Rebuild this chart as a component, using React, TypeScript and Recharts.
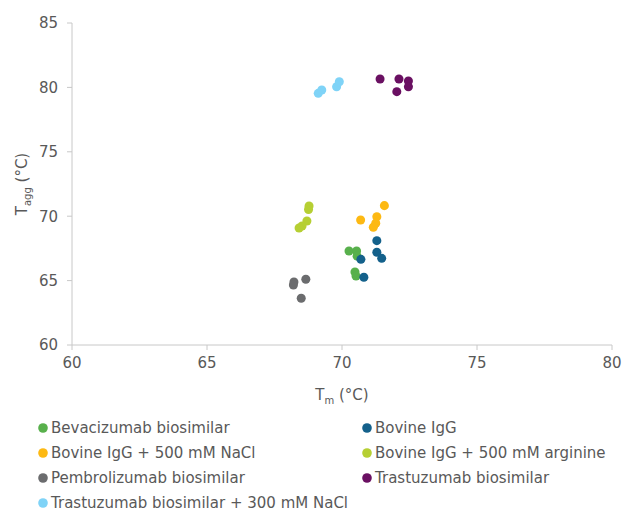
import React from "react";
import { ScatterChart, Scatter, XAxis, YAxis, ZAxis, Legend } from "recharts";

const seriesNames = [
  "Bevacizumab biosimilar",
  "Bovine IgG",
  "Bovine IgG + 500 mM NaCl",
  "Bovine IgG + 500 mM arginine",
  "Pembrolizumab biosimilar",
  "Trastuzumab biosimilar",
  "Trastuzumab biosimilar + 300 mM NaCl",
];
const seriesColors = ["#58B04C", "#14618B", "#FDB913", "#B6CF33", "#6B6C6E", "#6A1062", "#7FD3F7"];

const bevacizumab = [
  { tm: 70.26, tagg: 67.3 },
  { tm: 70.54, tagg: 67.3 },
  { tm: 70.56, tagg: 66.9 },
  { tm: 70.48, tagg: 65.67 },
  { tm: 70.52, tagg: 65.36 },
];
const bovineIgG = [
  { tm: 71.29, tagg: 68.1 },
  { tm: 71.29, tagg: 67.2 },
  { tm: 71.47, tagg: 66.73 },
  { tm: 70.7, tagg: 66.65 },
  { tm: 70.81, tagg: 65.26 },
];
const bovineNaCl = [
  { tm: 71.57, tagg: 70.82 },
  { tm: 70.69, tagg: 69.7 },
  { tm: 71.29, tagg: 69.96 },
  { tm: 71.25, tagg: 69.45 },
  { tm: 71.16, tagg: 69.14 },
];
const bovineArginine = [
  { tm: 68.78, tagg: 70.79 },
  { tm: 68.76, tagg: 70.52 },
  { tm: 68.7, tagg: 69.63 },
  { tm: 68.52, tagg: 69.24 },
  { tm: 68.41, tagg: 69.08 },
];
const pembrolizumab = [
  { tm: 68.22, tagg: 64.89 },
  { tm: 68.2, tagg: 64.66 },
  { tm: 68.66, tagg: 65.1 },
  { tm: 68.49, tagg: 63.63 },
];
const trastuzumab = [
  { tm: 71.41, tagg: 80.65 },
  { tm: 72.11, tagg: 80.65 },
  { tm: 72.46, tagg: 80.5 },
  { tm: 72.46, tagg: 80.05 },
  { tm: 72.03, tagg: 79.67 },
];
const trastuzumabNaCl = [
  { tm: 69.12, tagg: 79.54 },
  { tm: 69.25, tagg: 79.8 },
  { tm: 69.8, tagg: 80.05 },
  { tm: 69.9, tagg: 80.44 },
];

const seriesData = [
  bevacizumab,
  bovineIgG,
  bovineNaCl,
  bovineArginine,
  pembrolizumab,
  trastuzumab,
  trastuzumabNaCl,
];

const xTicks = [60, 65, 70, 75, 80];
const yTicks = [60, 65, 70, 75, 80, 85];

const FONT = "'DejaVu Sans', Verdana, sans-serif";
const TEXT = "#595959";
const AXIS = "#C8C8C8";

const XLabel = (props: any) => {
  const vb = props.viewBox || {};
  const cx = vb.x + vb.width / 2;
  return (
    <text x={cx} y={400} textAnchor="middle" fill={TEXT} fontSize={15} fontFamily={FONT}>
      <tspan>T</tspan>
      <tspan dy={4} fontSize={10}>m</tspan>
      <tspan dy={-4}> (°C)</tspan>
    </text>
  );
};

const YLabel = (props: any) => {
  const vb = props.viewBox || {};
  const cy = vb.y + vb.height / 2;
  const x = 27;
  return (
    <text
      x={x}
      y={cy}
      transform={`rotate(-90 ${x} ${cy})`}
      textAnchor="middle"
      fill={TEXT}
      fontSize={15}
      fontFamily={FONT}
    >
      <tspan>T</tspan>
      <tspan dy={4} fontSize={10}>agg</tspan>
      <tspan dy={-4}> (°C)</tspan>
    </text>
  );
};

const LegendContent = () => (
  <div
    style={{
      display: "grid",
      gridTemplateColumns: "324px 290px",
      rowGap: 0,
      fontFamily: FONT,
      fontSize: 15,
      color: TEXT,
    }}
  >
    {seriesNames.map((name, i) => (
      <div key={name} style={{ display: "flex", alignItems: "center", height: 25, whiteSpace: "nowrap" }}>
        <svg width={12} height={12} style={{ marginRight: 2 }}>
          <circle cx={6} cy={6} r={4.8} fill={seriesColors[i]} />
        </svg>
        <span>{name}</span>
      </div>
    ))}
  </div>
);

export default function App() {
  return (
    <div style={{ position: "absolute", left: 0, top: 0, width: 625, height: 510, background: "#fff" }}>
      <ScatterChart width={625} height={510} margin={{ top: 23, right: 13, left: 12, bottom: 105 }}>
        <XAxis
          type="number"
          dataKey="tm"
          domain={[60, 80]}
          ticks={xTicks}
          interval={0}
          stroke={AXIS}
          tickSize={5}
          tickMargin={7}
          height={60}
          tick={{ fill: TEXT, fontSize: 15, fontFamily: FONT }}
          label={<XLabel />}
        />
        <YAxis
          type="number"
          dataKey="tagg"
          domain={[60, 85]}
          ticks={yTicks}
          interval={0}
          stroke={AXIS}
          tickSize={5}
          tickMargin={9}
          width={60}
          tick={{ fill: TEXT, fontSize: 15, fontFamily: FONT }}
          label={<YLabel />}
        />
        <ZAxis range={[90, 90]} />
        {seriesData.map((d, i) => (
          <Scatter
            key={seriesNames[i]}
            name={seriesNames[i]}
            data={d}
            fill={seriesColors[i]}
            isAnimationActive={false}
          />
        ))}
        <Legend
          layout="horizontal"
          verticalAlign="middle"
          content={<LegendContent />}
          wrapperStyle={{ position: "absolute", left: 37, top: 415, width: 610 }}
        />
      </ScatterChart>
    </div>
  );
}
